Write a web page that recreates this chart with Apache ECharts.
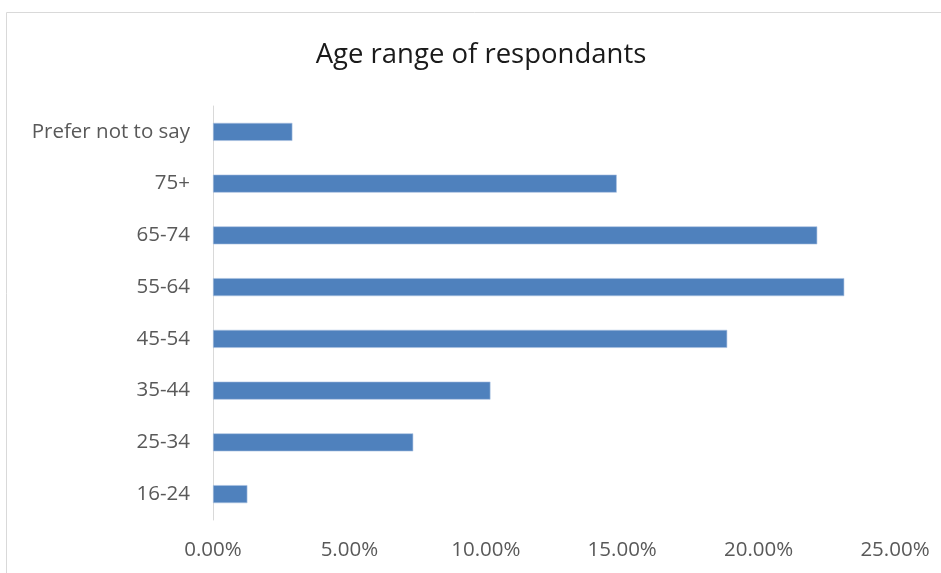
<!DOCTYPE html>
<html>
<head>
<meta charset="utf-8">
<script src="https://cdn.jsdelivr.net/npm/echarts@6/dist/echarts.min.js"></script>
<style>
html,body{margin:0;padding:0;background:#fff;}
#main{width:941px;height:573px;}
</style>
</head>
<body>
<div id="main"></div>
<script>
const categories = ['16-24', '25-34', '35-44', '45-54', '55-64', '65-74', '75+', 'Prefer not to say'];
const values = [1.26, 7.34, 10.17, 18.85, 23.14, 22.15, 14.80, 2.91];
const xTicks = [0, 5, 10, 15, 20, 25];

const chart = echarts.init(document.getElementById('main'));
chart.setOption({
  animation: false,
  graphic: [
    {
      type: 'rect',
      shape: { x: 6.5, y: 12.5, width: 940, height: 570 },
      style: { fill: 'none', stroke: '#d9d9d9', lineWidth: 1 },
      silent: true
    },
    {
      type: 'text',
      x: 481, y: 55,
      style: {
        text: 'Age range of respondants',
        fontFamily: 'Open Sans',
        fontSize: 27.5,
        fill: '#1a1a1a',
        textAlign: 'center',
        textVerticalAlign: 'middle'
      }
    }
  ],
  grid: { left: 213, right: 46, top: 106, bottom: 53, containLabel: false },
  xAxis: {
    type: 'value',
    min: xTicks[0],
    max: xTicks[xTicks.length - 1],
    interval: 5,
    axisLine: { show: false },
    axisTick: { show: false },
    splitLine: { show: false },
    axisLabel: {
      margin: 20,
      color: '#595959',
      fontFamily: 'Open Sans',
      fontSize: 20.5,
      formatter: v => v.toFixed(2) + '%'
    }
  },
  yAxis: {
    type: 'category',
    data: categories,
    axisLine: { show: true, lineStyle: { color: '#d9d9d9', width: 1 } },
    axisTick: { show: false },
    axisLabel: {
      margin: 23,
      color: '#595959',
      fontFamily: 'Open Sans',
      fontSize: 20.5
    }
  },
  series: [{
    type: 'bar',
    data: values,
    barWidth: 18,
    itemStyle: { color: '#4f81bd', borderColor: '#a9c1e0', borderWidth: 0.6 }
  }]
});
</script>
</body>
</html>
